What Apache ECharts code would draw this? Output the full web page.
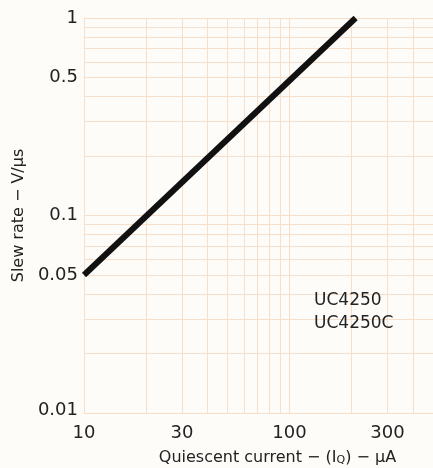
<!DOCTYPE html>
<html>
<head>
<meta charset="utf-8">
<style>html,body{margin:0;padding:0;background:#fdfcf9;}#c{width:433px;height:468px;}</style>
<script src="https://cdn.jsdelivr.net/npm/echarts@6/dist/echarts.min.js"></script>
</head>
<body>
<div id="c"></div>
<script>
// Data
const current = [10, 210];          // Quiescent current (µA)
const slewRate = [0.05, 1];         // Slew rate (V/µs)
const xGrid = [10,20,30,40,50,60,70,80,90,100,200,300,400,500];
const xLabels = [10, 30, 100, 300];
const yGrid = [0.01,0.02,0.03,0.04,0.05,0.06,0.07,0.08,0.09,0.1,0.2,0.3,0.4,0.5,0.6,0.7,0.8,0.9,1];
const yLabels = [0.01, 0.05, 0.1, 0.5, 1];
const deviceNames = ['UC4250', 'UC4250C'];

const font = 'DejaVu Sans';
const gridColor = '#f6dfcb';
const chart = echarts.init(document.getElementById('c'), null, {renderer: 'canvas'});
chart.setOption({
  backgroundColor: '#fdfcf9',
  animation: false,
  grid: {left: 84, right: 0, top: 18, bottom: 55, containLabel: false, outerBoundsMode: 'none'},
  xAxis: {
    type: 'log', logBase: 10, min: 10, max: 500,
    name: 'Quiescent current − (I{s|Q}) − μA',
    nameLocation: 'middle', nameGap: 36,
    nameTextStyle: {
      fontFamily: font, fontSize: 16, color: '#222', padding: [0, 0, 0, 38],
      rich: {s: {fontFamily: font, fontSize: 11, color: '#222', verticalAlign: 'bottom', padding: [6, 0, 0, 0]}}
    },
    axisLine: {show: true, lineStyle: {color: gridColor, width: 1}},
    axisTick: {show: false, customValues: xGrid},
    splitLine: {show: true, lineStyle: {color: gridColor, width: 1}},
    axisLabel: {customValues: xLabels, fontFamily: font, fontSize: 18, color: '#222', margin: 11,
      formatter: v => String(Math.round(v))}
  },
  yAxis: {
    type: 'log', logBase: 10, min: 0.01, max: 1,
    name: 'Slew rate − V/μs',
    nameLocation: 'middle', nameGap: 51, nameRotate: 90,
    nameTextStyle: {fontFamily: font, fontSize: 16, color: '#222'},
    axisLine: {show: true, lineStyle: {color: gridColor, width: 1}},
    axisTick: {show: false, customValues: yGrid},
    splitLine: {show: true, lineStyle: {color: gridColor, width: 1}},
    axisLabel: {customValues: yLabels, fontFamily: font, fontSize: 18, color: '#222', margin: 6,
      formatter: v => {
        const s = String(+v.toPrecision(3));
        return Math.abs(v - 0.01) < 1e-9 ? '{lo|' + s + '}' : s;
      },
      rich: {lo: {fontFamily: font, fontSize: 18, color: '#222', padding: [0, 0, 6, 0]}}
    }
  },
  series: [{
    type: 'line',
    data: current.map((x, i) => [x, slewRate[i]]),
    showSymbol: false,
    lineStyle: {color: '#111', width: 6, cap: 'butt'}
  }],
  graphic: [{
    type: 'text', left: 314, top: 289, z: 100,
    style: {text: deviceNames.join('\n'), font: '17px "DejaVu Sans"', fill: '#222', lineHeight: 23}
  }]
});
</script>
</body>
</html>
